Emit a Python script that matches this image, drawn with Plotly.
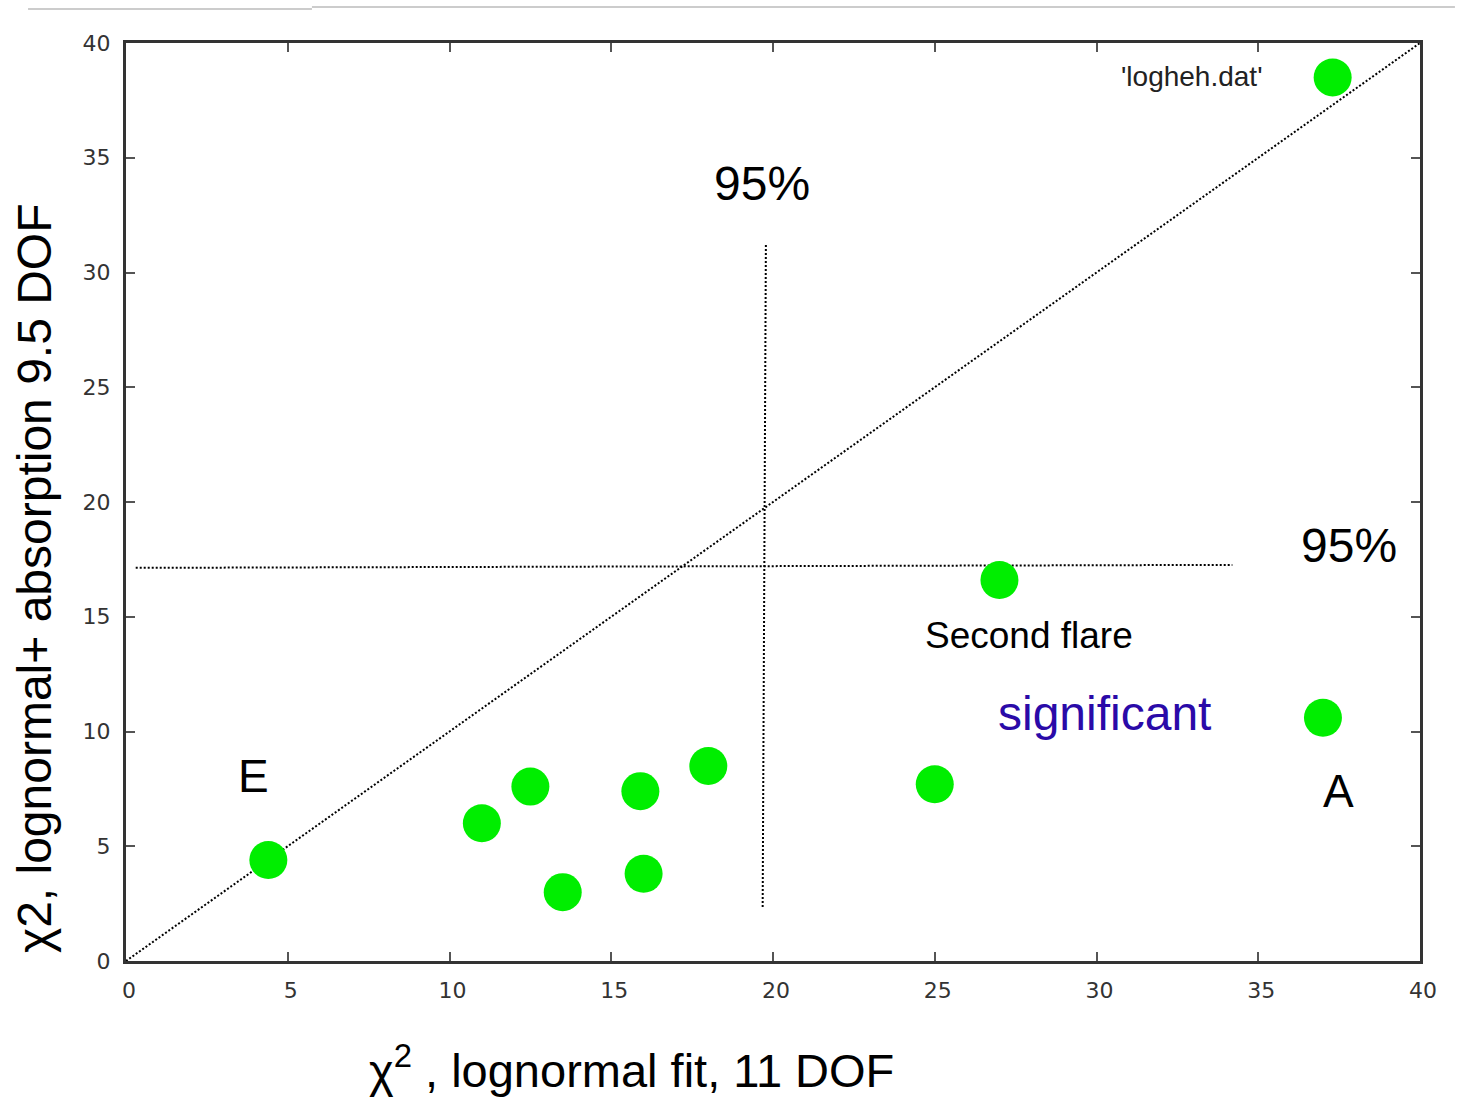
import plotly.graph_objects as go

# chi-square of the lognormal fit (x) vs lognormal + absorption fit (y)
chi2_lognormal = [37.3, 27.0, 37.0, 4.4, 11.0, 12.5, 13.5, 15.9, 16.0, 18.0, 25.0]
chi2_absorption = [38.5, 16.6, 10.6, 4.4, 6.0, 7.6, 3.0, 7.4, 3.8, 8.5, 7.7]

# reference lines: equality diagonal and the two 95% thresholds
diag_x = [0, 40]
diag_y = [0, 40]
thr_x_vert = [19.78, 19.68]
thr_y_vert = [31.2, 2.3]
thr_x_horiz = [0.3, 34.2]
thr_y_horiz = [17.13, 17.26]

tick_vals = [0, 5, 10, 15, 20, 25, 30, 35, 40]

FONT = "Liberation Sans, Arial, sans-serif"
TICK_FONT = "DejaVu Sans, sans-serif"
DOT = "2px,2px"

fig = go.Figure()

for xs, ys in [(diag_x, diag_y), (thr_x_vert, thr_y_vert), (thr_x_horiz, thr_y_horiz)]:
    fig.add_trace(go.Scatter(
        x=xs, y=ys, mode="lines",
        line=dict(color="black", width=2, dash=DOT),
        hoverinfo="skip", showlegend=False,
    ))

fig.add_trace(go.Scatter(
    x=chi2_lognormal, y=chi2_absorption, mode="markers",
    marker=dict(color="#00ee00", size=38, line=dict(width=0)),
    name="'logheh.dat'", showlegend=False,
))

annotations = [
    dict(x=19.66, y=33.9, text="95%", size=48, color="black"),
    dict(x=37.8, y=18.1, text="95%", size=48, color="black"),
    dict(x=27.9, y=14.2, text="Second flare", size=37, color="black"),
    dict(x=30.26, y=10.8, text="significant", size=48, color="#2a0aa8"),
    dict(x=3.93, y=8.06, text="E", size=46, color="black"),
    dict(x=37.47, y=7.41, text="A", size=46, color="black"),
    dict(x=32.95, y=38.55, text="'logheh.dat'", size=28, color="#222222"),
]
for a in annotations:
    fig.add_annotation(
        x=a["x"], y=a["y"], xref="x", yref="y", text=a["text"],
        showarrow=False, xanchor="center", yanchor="middle",
        font=dict(family=FONT, size=a["size"], color=a["color"]),
    )

# axis titles
fig.add_annotation(
    x=-0.0712, y=0.417, xref="paper", yref="paper", textangle=-90,
    text="χ2, lognormal+ absorption 9.5 DOF", showarrow=False,
    xanchor="center", yanchor="middle",
    font=dict(family=FONT, size=48, color="black"),
)
fig.add_annotation(
    x=0.391, y=-0.116, xref="paper", yref="paper",
    text="χ<sup>2</sup> , lognormal fit, 11 DOF", showarrow=False,
    xanchor="center", yanchor="middle",
    font=dict(family=FONT, size=47, color="black"),
)

# faint rule above the frame
fig.add_shape(type="line", xref="paper", yref="paper",
              x0=-0.0757, x1=0.1437, y0=1.037, y1=1.037,
              line=dict(color="#cccccc", width=2))
fig.add_shape(type="line", xref="paper", yref="paper",
              x0=0.1437, x1=1.027, y0=1.0392, y1=1.0392,
              line=dict(color="#cccccc", width=2))

axis_common = dict(
    range=[0, 40], tickvals=tick_vals, ticktext=[str(v) for v in tick_vals],
    showgrid=False, zeroline=False,
    showline=True, mirror="ticks", linecolor="#333333", linewidth=3,
    ticks="inside", ticklen=9, tickwidth=2, tickcolor="#555555",
    tickfont=dict(family=TICK_FONT, size=22, color="#333333"),
)

fig.update_layout(
    width=1462, height=1105,
    margin=dict(l=126, r=42, t=43, b=144),
    paper_bgcolor="white", plot_bgcolor="white",
    xaxis=dict(**axis_common, ticklabelstandoff=8, ticklabelshift=3),
    yaxis=dict(**axis_common, ticklabelstandoff=8),
)

fig.write_html("out.html")
